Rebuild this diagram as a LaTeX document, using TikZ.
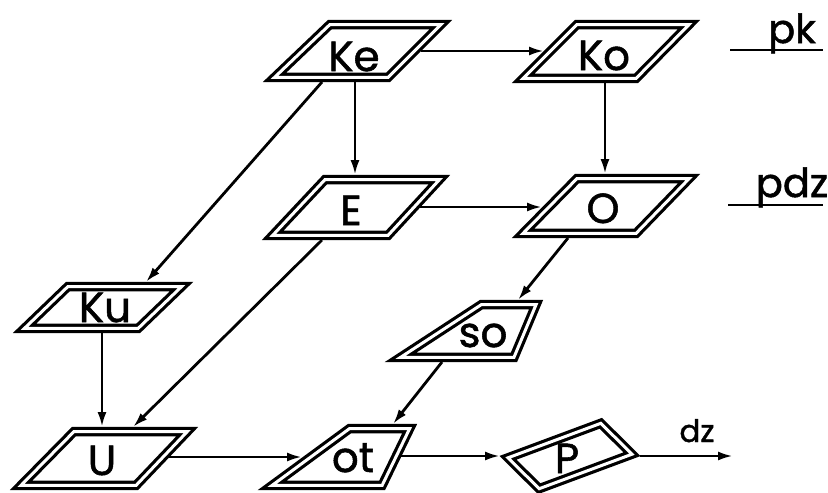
\documentclass[tikz,border=0pt]{standalone}
\usepackage{fontspec}
\setmainfont{Poppins}
\newfontfamily\labfont[FakeBold=1.3]{Poppins}
\usetikzlibrary{arrows.meta}
\def\boxd{4.6}
% double-outlined trapezoid from its OUTER corners: xbl, xbr, xtl, xtr, ybottom, ytop
\newcommand\dtrap[6]{%
 \pgfmathsetmacro\tH{#5-(#6)}%
 \pgfmathsetmacro\tLL{veclen(#3-(#1),\tH)}%
 \pgfmathsetmacro\tLR{veclen(#4-(#2),\tH)}%
 \pgfmathsetmacro\aBL{#1+(#3-(#1))*\boxd/\tH+\boxd*\tLL/\tH}%
 \pgfmathsetmacro\aTL{#3-(#3-(#1))*\boxd/\tH+\boxd*\tLL/\tH}%
 \pgfmathsetmacro\aBR{#2+(#4-(#2))*\boxd/\tH-\boxd*\tLR/\tH}%
 \pgfmathsetmacro\aTR{#4-(#4-(#2))*\boxd/\tH-\boxd*\tLR/\tH}%
 \draw[dbox] (\aBL,#5-\boxd) -- (\aBR,#5-\boxd) -- (\aTR,#6+\boxd) -- (\aTL,#6+\boxd) -- cycle;}
\begin{document}
\begin{tikzpicture}[x=1pt,y=-1pt,
  dbox/.style={draw=black, line width=3.2pt, double=white, double distance=3pt, line join=miter},
  arr/.style={line width=2.8pt, -{Latex[length=15pt,width=9pt]}},
  lab/.style={font=\labfont\fontsize{42}{46}\selectfont, inner sep=0pt, anchor=base},
  side/.style={font=\labfont\fontsize{40}{44}\selectfont, inner sep=0pt, anchor=base},
  small/.style={font=\labfont\fontsize{31}{34}\selectfont, inner sep=0pt, anchor=base},
  uline/.style={line width=2.8pt}]
\useasboundingbox (0,0) rectangle (828,493);

% boxes
\dtrap{263}{390}{328}{452}{82}{20}   % Ke
\dtrap{512}{638}{575}{700}{83}{20}   % Ko
\dtrap{262}{390}{323}{450}{240}{175} % E
\dtrap{512}{638}{575}{700}{238}{174} % O
\dtrap{13}{140}{66}{193}{333}{282}   % Ku
\dtrap{10}{138}{72}{198}{490}{427}   % U
\dtrap{385}{517}{480}{543}{362}{300} % so
\dtrap{258}{385}{348}{417}{490}{424} % ot
\draw[dbox] (508.0,457.8) -- (600.8,423.3) -- (632.0,454.2) -- (539.2,488.7) -- cycle; % P

% labels
\node[lab] (Ke) at (354,71) {Ke};
\node[lab] (Ko) at (604,70) {Ko};
\node[lab] (E) at (351,225) {E};
\node[lab] (O) at (603,223) {O};
\node[lab] (Ku) at (105,322) {Ku};
\node[lab] (U) at (102,475) {U};
\node[lab] (so) at (483,347) {so};
\node[lab] (ot) at (353,472) {ot};
\node[lab] (P) at (567,473) {P};
\node[small] (dz) at (697,442) {dz};
\node[side] (pk) at (792,43) {pk};
\node[side] (pdz) at (792,197) {pdz};
\draw[uline] (730,50) -- (823,50);
\draw[uline] (728,205) -- (823,205);

% attachment points
\coordinate (Ke-r) at (421,51);
\coordinate (Ko-l) at (544,51);
\coordinate (Ke-b) at (355,82);
\coordinate (E-t) at (355,175);
\coordinate (Ko-b) at (605,83);
\coordinate (O-t) at (605,174);
\coordinate (E-r) at (420,207);
\coordinate (O-l) at (542,207);
\coordinate (Ke-bl) at (322,82);
\coordinate (Ku-t) at (146,282);
\coordinate (E-bl) at (322,240);
\coordinate (U-tr) at (133,427);
\coordinate (Ku-b) at (102,333);
\coordinate (U-t) at (102,427);
\coordinate (U-r) at (169,457);
\coordinate (ot-l) at (302,457);
\coordinate (O-bl) at (568,238);
\coordinate (so-t) at (518,300);
\coordinate (so-b) at (442,362);
\coordinate (ot-t) at (393,424);
\coordinate (ot-r) at (401,456);
\coordinate (P-l) at (500,456);
\coordinate (P-r) at (640,456);
\coordinate (dz-end) at (733,456);

% connectors
\draw[arr] (Ke-r) -- (Ko-l);
\draw[arr] (Ke-b) -- (E-t);
\draw[arr] (Ko-b) -- (O-t);
\draw[arr] (E-r) -- (O-l);
\draw[arr] (Ke-bl) -- (Ku-t);
\draw[arr] (E-bl) -- (U-tr);
\draw[arr] (Ku-b) -- (U-t);
\draw[arr] (U-r) -- (ot-l);
\draw[arr] (O-bl) -- (so-t);
\draw[arr] (so-b) -- (ot-t);
\draw[arr] (ot-r) -- (P-l);
\draw[arr] (P-r) -- (dz-end);
\end{tikzpicture}
\end{document}
